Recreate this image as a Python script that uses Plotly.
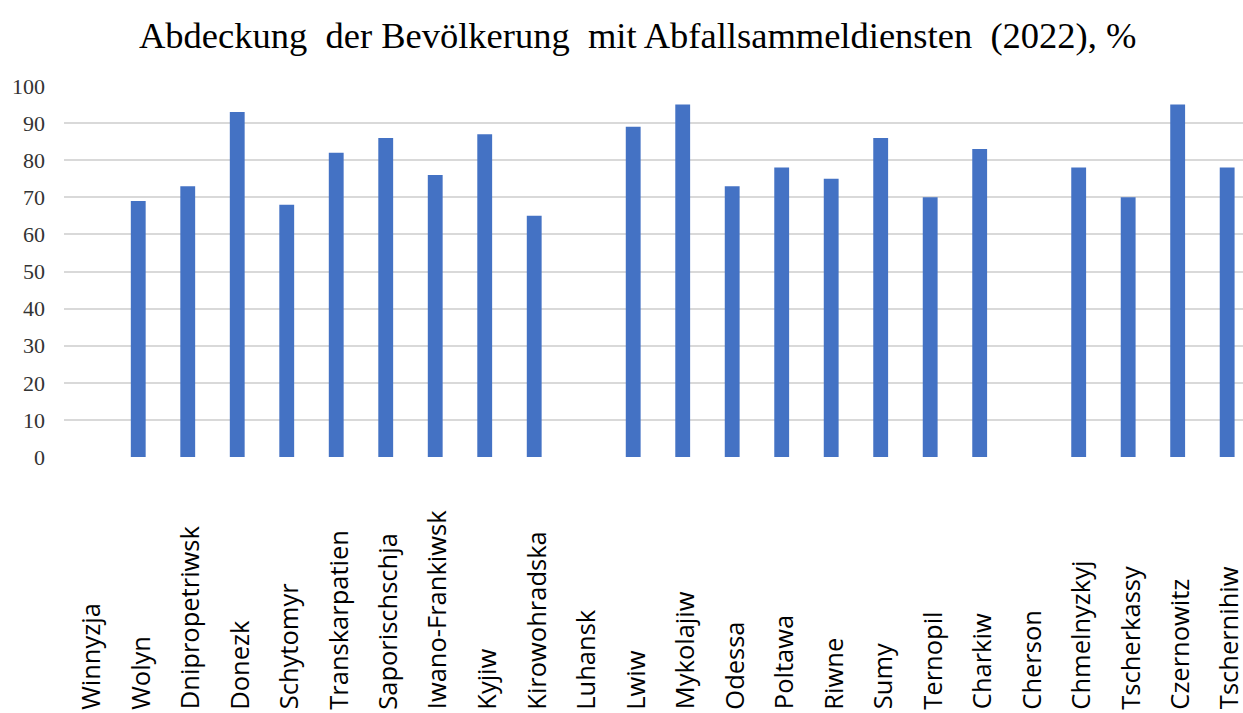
import plotly.graph_objects as go

regions = ["Winnyzja", "Wolyn", "Dnipropetriwsk", "Donezk", "Schytomyr", "Transkarpatien",
           "Saporischschja", "Iwano-Frankiwsk", "Kyjiw", "Kirowohradska", "Luhansk", "Lwiw",
           "Mykolajiw", "Odessa", "Poltawa", "Riwne", "Sumy", "Ternopil", "Charkiw", "Cherson",
           "Chmelnyzkyj", "Tscherkassy", "Czernowitz", "Tschernihiw"]
coverage = [None, 69, 73, 93, 68, 82, 86, 76, 87, 65, None, 89,
            95, 73, 78, 75, 86, 70, 83, None, 78, 70, 95, 78]
y_ticks = [0, 10, 20, 30, 40, 50, 60, 70, 80, 90, 100]
title_text = "Abdeckung  der Bevölkerung  mit Abfallsammeldiensten  (2022), %"

fig = go.Figure()
fig.add_trace(go.Bar(
    x=regions, y=coverage, width=0.3,
    marker=dict(color="#4472C4", line=dict(width=0)),
))

for r in regions:
    fig.add_annotation(
        x=r, xref="x", y=-0.686, yref="paper",
        text=r, textangle=-90, showarrow=False,
        xanchor="center", yanchor="bottom", xshift=1,
        font=dict(family="Open Sans", size=25.5, color="#000000"),
    )

fig.update_layout(
    width=1243, height=713,
    margin=dict(l=64, r=0, t=86, b=256, autoexpand=False),
    plot_bgcolor="white", paper_bgcolor="white",
    showlegend=False,
    title=dict(text=title_text, x=0.513, xanchor="center", y=0.951, yanchor="middle",
               font=dict(family="Liberation Serif", size=36.5, color="#000000")),
    xaxis=dict(showticklabels=False, showgrid=False, zeroline=False, showline=False,
               range=[-0.5, 23.32], fixedrange=True, automargin=False),
    yaxis=dict(range=[0, 100], tickvals=y_ticks, showgrid=True, gridcolor="#D9D9D9",
               gridwidth=1.5, zeroline=False, showline=False, automargin=False,
               tickfont=dict(family="Liberation Serif", size=22, color="#333333"),
               ticklabelstandoff=18),
)

fig.write_html("out.html", config={"displayModeBar": False},
               post_script="document.body.style.margin='0px';document.body.style.overflow='hidden';")
